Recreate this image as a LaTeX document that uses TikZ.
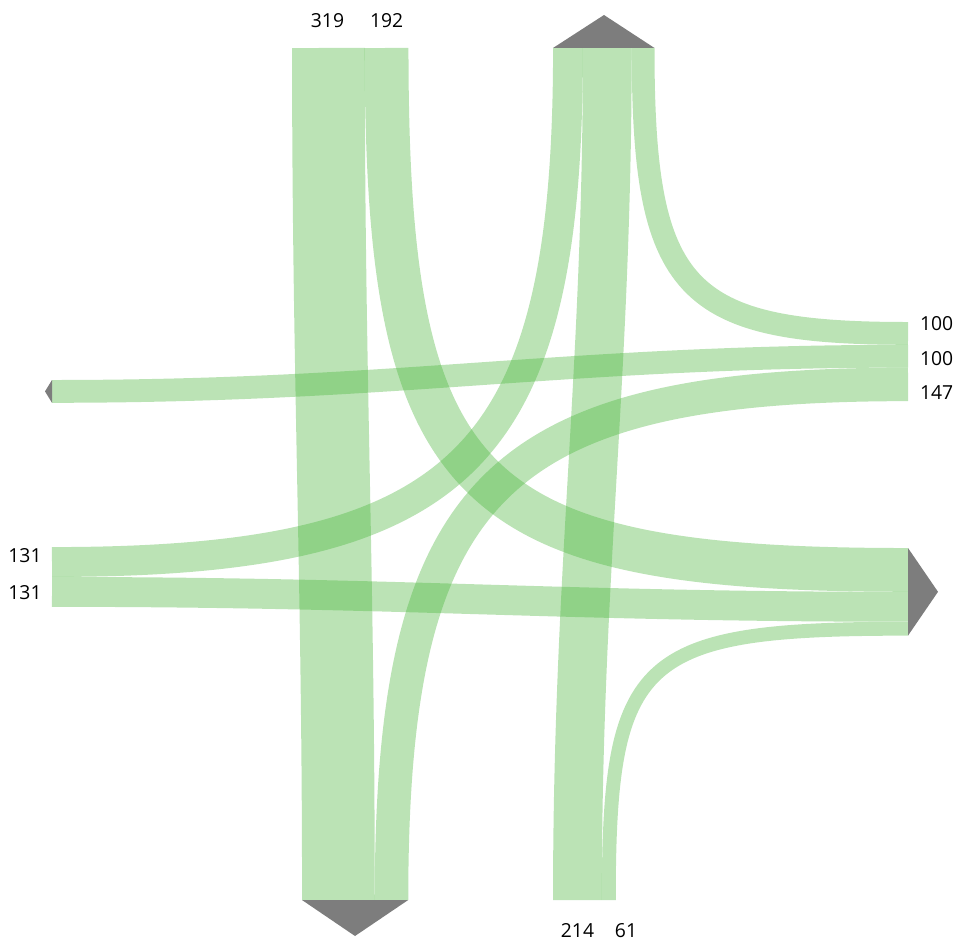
\documentclass[tikz,border=0pt]{standalone}
\usepackage{fontspec}
\setmainfont{Open Sans}
\definecolor{lanegreen}{RGB}{70,180,55}
\definecolor{tipgray}{RGB}{125,125,125}
\tikzset{
  lane/.style={draw=lanegreen, draw opacity=0.37, line width=#1*0.1297pt},
  outtip/.style={fill=tipgray},
  vol/.style={font=\fontsize{11}{13}\selectfont, inner sep=0pt}
}

\begin{document}
\begin{tikzpicture}[x=0.02cm,y=-0.02cm]
\useasboundingbox (0,0) rectangle (960,946);

\coordinate (N319) at (328.4,48);
\coordinate (N192) at (386.6,48);
\coordinate (E100a) at (908,333.4);
\coordinate (E100b) at (908,356.2);
\coordinate (E147) at (908,384.4);
\coordinate (S214) at (577.4,900);
\coordinate (S61) at (608.8,900);
\coordinate (W131a) at (52,562);
\coordinate (W131b) at (52,591.9);

\coordinate (Nx131) at (568,48);
\coordinate (Nx214) at (607.3,48);
\coordinate (Nx100) at (643.1,48);
\coordinate (Sx319) at (338.4,900);
\coordinate (Sx147) at (391.5,900);
\coordinate (Ex192) at (908,569.9);
\coordinate (Ex131) at (908,606.8);
\coordinate (Ex61) at (908,628.7);
\coordinate (Wx100) at (52,391.4);

\draw[lane=319] (N319) .. controls +(0,330) and +(0,-330) .. (Sx319);
\draw[lane=192] (N192) .. controls +(0,444) and +(-443,0) .. (Ex192);
\draw[lane=100] (E100a) .. controls +(-225,0) and +(0,243) .. (Nx100);
\draw[lane=100] (E100b) .. controls +(-348,0) and +(348,0) .. (Wx100);
\draw[lane=147] (E147) .. controls +(-413,0) and +(0,-412) .. (Sx147);
\draw[lane=214] (S214) .. controls +(0,-330) and +(0,330) .. (Nx214);
\draw[lane=61] (S61) .. controls +(0,-244) and +(-269,0) .. (Ex61);
\draw[lane=131] (W131a) .. controls +(413,0) and +(0,411) .. (Nx131);
\draw[lane=131] (W131b) .. controls +(348,0) and +(-348,0) .. (Ex131);

\fill[outtip] (553,48) -- (604,15) -- (654.5,48) -- cycle;
\fill[outtip] (302,900) -- (355,936) -- (408.2,900) -- cycle;
\fill[outtip] (908,548) -- (938,591.8) -- (908,635.6) -- cycle;
\fill[outtip] (52,380) -- (45,391.4) -- (52,402.8) -- cycle;

\node[vol] (l319) at (327.5,21) {319};
\node[vol] (l192) at (386.7,21) {192};
\node[vol] (l214) at (577.5,930.5) {214};
\node[vol] (l61) at (626,930.5) {61};
\node[vol] (l100a) at (936.7,323.3) {100};
\node[vol] (l100b) at (936.7,358.3) {100};
\node[vol] (l147) at (936.7,393) {147};
\node[vol] (l131a) at (25,555.8) {131};
\node[vol] (l131b) at (25,592.5) {131};
\end{tikzpicture}
\end{document}
